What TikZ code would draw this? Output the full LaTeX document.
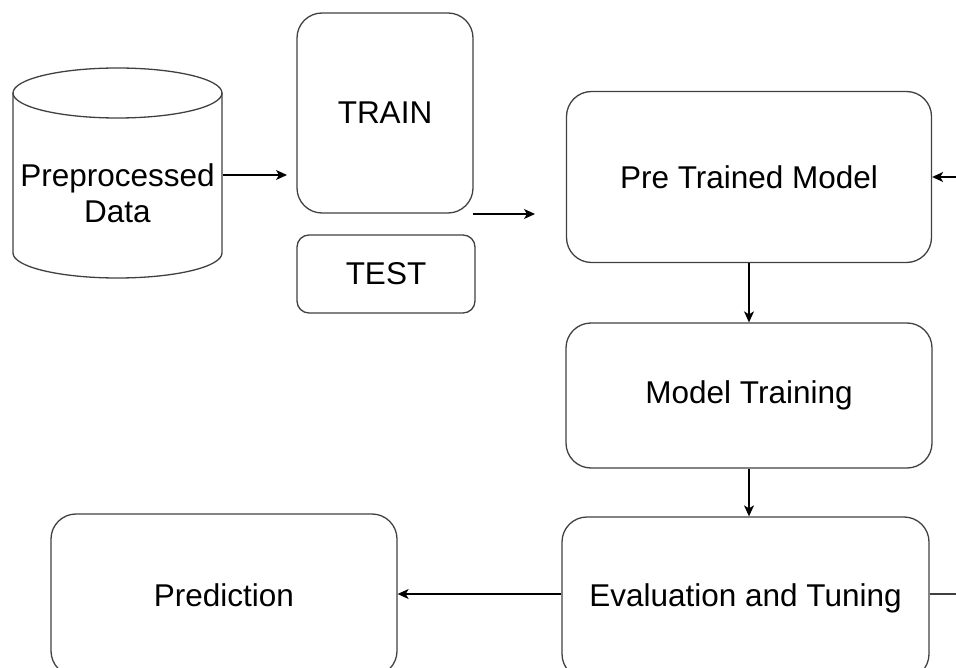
\documentclass[tikz,border=0pt]{standalone}
\usepackage{fontspec}
\setmainfont{Liberation Sans}
\usetikzlibrary{arrows.meta}
\begin{document}
\begin{tikzpicture}[x=1pt,y=-1pt,
  line width=1.3pt, draw=black!75,
  box/.style={draw=black!75, rounded corners=25pt, align=center, inner sep=0pt,
    font=\fontsize{31.5}{36}\selectfont},
  arr/.style={draw=black, -{Stealth[length=11pt,width=10pt,inset=3pt]}},
  plain/.style={draw=black!75}]
\useasboundingbox (0,0) rectangle (956,668);
\clip (0,0) rectangle (956,668);
% cylinder
\node[inner sep=0pt, minimum width=209pt, minimum height=160pt, align=center,
  font=\fontsize{31.5}{36}\selectfont] (data) at (117.5,193) {Preprocessed\\Data};
\draw[black!75] (13,93) -- (13,253) arc[start angle=180,end angle=0,x radius=104.5,y radius=25] -- (222,93);
\draw[black!75] (117.5,93) ellipse[x radius=104.5, y radius=25];
% boxes
\node[box, minimum width=176pt, minimum height=200pt] (train) at (385,113) {TRAIN};
\node[box, rounded corners=12pt, minimum width=178pt, minimum height=78pt] (test) at (386,274) {TEST};
\node[box, minimum width=365pt, minimum height=171pt] (ptm) at (749,177) {Pre Trained Model};
\node[box, minimum width=366pt, minimum height=145pt] (mt) at (749,395.5) {Model Training};
\node[box, minimum width=367pt, minimum height=162pt] (eval) at (745.5,598) {Evaluation and Tuning};
\node[box, minimum width=346pt, minimum height=162pt] (pred) at (224,595) {Prediction};
% free ends
\coordinate (c1) at (287,175);
\coordinate (c2a) at (473,214);
\coordinate (c2b) at (535,214);
\coordinate (c3) at (958,177);
\coordinate (c4) at (958,594);
% connectors
\draw[arr] (data.east |- c1) -- (c1);
\draw[arr] (c2a) -- (c2b);
\draw[arr] (c3) -- (c3 -| ptm.east);
\draw[arr] (ptm.south) -- (mt.north);
\draw[arr] (mt.south) -- (mt.south |- eval.north);
\draw[arr] (eval.west |- c4) -- (pred.east |- c4);
\draw[plain] (eval.east |- c4) -- (c4);
\end{tikzpicture}
\end{document}
